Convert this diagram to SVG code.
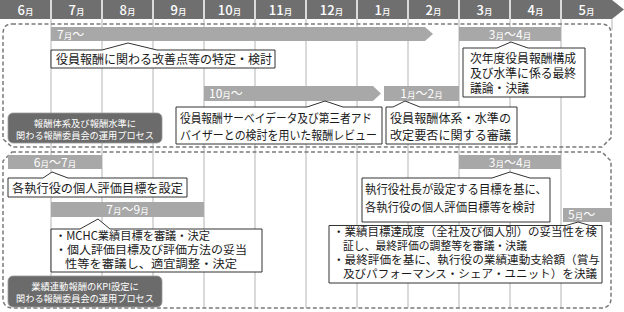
<svg xmlns="http://www.w3.org/2000/svg" width="624" height="312" viewBox="0 0 624 312">
<style>
text{font-family:"Noto Sans CJK JP","Noto Sans",sans-serif;}
.hd{fill:#6f6f6f;}
.hsep{stroke:#fff;stroke-width:1.5;}
.ht{fill:#fff;font-size:13px;text-anchor:middle;font-weight:500;}
.m{font-size:8.5px;}
.grid{stroke:#b4b4b4;stroke-width:1;}
.frame{fill:none;stroke:#7a7a7a;stroke-width:1.5;stroke-dasharray:4 2.5;}
.bar{fill:#a8a8a8;}
.bt{fill:#fff;font-size:12px;}
.co{fill:#fff;stroke:#333;stroke-width:1;}
.ct{fill:#1a1a1a;font-size:12px;}
.cs{fill:#1a1a1a;font-size:11.3px;}
.lab{fill:#6b6b6b;stroke:#9a9a9a;stroke-width:0.8;}
.lt{fill:#fff;font-size:9.3px;text-anchor:middle;}
</style>
<rect width="624" height="312" fill="#fff"/>
<g id="header">
<path class="hd" d="M0,0 H612 L624,9.5 L612,19 H0 Z"/>
<g class="hsep">
<line x1="51" y1="0" x2="51" y2="19"/><line x1="102" y1="0" x2="102" y2="19"/><line x1="153" y1="0" x2="153" y2="19"/><line x1="204" y1="0" x2="204" y2="19"/><line x1="255" y1="0" x2="255" y2="19"/><line x1="306" y1="0" x2="306" y2="19"/><line x1="357" y1="0" x2="357" y2="19"/><line x1="408" y1="0" x2="408" y2="19"/><line x1="459" y1="0" x2="459" y2="19"/><line x1="510" y1="0" x2="510" y2="19"/><line x1="561" y1="0" x2="561" y2="19"/>
</g>
<text class="ht" x="25.5" y="14.5">6<tspan class="m">月</tspan></text>
<text class="ht" x="76.5" y="14.5">7<tspan class="m">月</tspan></text>
<text class="ht" x="127.5" y="14.5">8<tspan class="m">月</tspan></text>
<text class="ht" x="178.5" y="14.5">9<tspan class="m">月</tspan></text>
<text class="ht" x="229.5" y="14.5">10<tspan class="m">月</tspan></text>
<text class="ht" x="280.5" y="14.5">11<tspan class="m">月</tspan></text>
<text class="ht" x="331.5" y="14.5">12<tspan class="m">月</tspan></text>
<text class="ht" x="382.5" y="14.5">1<tspan class="m">月</tspan></text>
<text class="ht" x="433.5" y="14.5">2<tspan class="m">月</tspan></text>
<text class="ht" x="484.5" y="14.5">3<tspan class="m">月</tspan></text>
<text class="ht" x="535.5" y="14.5">4<tspan class="m">月</tspan></text>
<text class="ht" x="586.5" y="14.5">5<tspan class="m">月</tspan></text>
</g>
<g id="grid" class="grid">
<line x1="51" y1="19" x2="51" y2="308"/><line x1="102" y1="19" x2="102" y2="308"/><line x1="153" y1="19" x2="153" y2="308"/><line x1="204" y1="19" x2="204" y2="308"/><line x1="255" y1="19" x2="255" y2="308"/><line x1="306" y1="19" x2="306" y2="308"/><line x1="357" y1="19" x2="357" y2="308"/><line x1="408" y1="19" x2="408" y2="308"/><line x1="459" y1="19" x2="459" y2="308"/><line x1="510" y1="19" x2="510" y2="308"/><line x1="561" y1="19" x2="561" y2="308"/><line x1="612" y1="19" x2="612" y2="30"/>
</g>
<g id="frames">
<path class="frame" d="M12,24 H601 Q611,24 611,34 V138 L602,147 H12 L3,139 V34 Q3,24 12,24"/>
<path class="frame" d="M12,152 H602 L611,161 V298 Q611,308 601,308 H13 Q3,308 3,298 V161 Z"/>
</g>
<g id="bar-jul">
<path class="bar" d="M51,27 H425 L433,34 L425,41 H51 Z"/>
<text class="bt" x="57" y="38.5">7<tspan class="m">月</tspan>～</text>
</g>
<g id="bar-marapr1">
<rect class="bar" x="459" y="27" width="102" height="14"/>
<text class="bt" x="510" y="38.5" text-anchor="middle">3<tspan class="m">月</tspan>～4<tspan class="m">月</tspan></text>
</g>
<g id="bar-oct">
<path class="bar" d="M204,86 H373 L381,93.5 L373,101 H204 Z"/>
<text class="bt" x="209" y="97.5">10<tspan class="m">月</tspan>～</text>
</g>
<g id="bar-janfeb">
<rect class="bar" x="384" y="86" width="75" height="15"/>
<text class="bt" x="421.5" y="97.5" text-anchor="middle">1<tspan class="m">月</tspan>～2<tspan class="m">月</tspan></text>
</g>
<g id="box-a">
<path class="co" d="M51,50 H102 L128,43 L157,50 H275 V68 H51 Z"/>
<text class="ct" x="56" y="63.5" textLength="216" lengthAdjust="spacingAndGlyphs">役員報酬に関わる改善点等の特定・検討</text>
</g>
<g id="box-b">
<path class="co" d="M463,48 H497 L511,42 L528,48 H585 V97 H463 Z"/>
<text class="ct" x="470" y="63" textLength="106" lengthAdjust="spacingAndGlyphs">次年度役員報酬構成</text>
<text class="ct" x="470" y="78" textLength="106" lengthAdjust="spacingAndGlyphs">及び水準に係る最終</text>
<text class="ct" x="470" y="93" textLength="59" lengthAdjust="spacingAndGlyphs">議論・決議</text>
</g>
<g id="box-c">
<path class="co" d="M176,107 H307 L325,101 L343,107 H382 V144 H176 Z"/>
<text class="ct" x="180" y="123" textLength="192" lengthAdjust="spacingAndGlyphs">役員報酬サーベイデータ及び第三者アド</text>
<text class="ct" x="180" y="140" textLength="197" lengthAdjust="spacingAndGlyphs">バイザーとの検討を用いた報酬レビュー</text>
</g>
<g id="box-d">
<path class="co" d="M386,107 H393 L405,101 L420,107 H517 V144 H386 Z"/>
<text class="ct" x="390" y="123" textLength="121" lengthAdjust="spacingAndGlyphs">役員報酬体系・水準の</text>
<text class="ct" x="390" y="140" textLength="121" lengthAdjust="spacingAndGlyphs">改定要否に関する審議</text>
</g>
<g id="label-1">
<rect class="lab" x="8" y="113" width="154" height="30" rx="5"/>
<text class="lt" x="85" y="126.5">報酬体系及び報酬水準に</text>
<text class="lt" x="85" y="138.5" textLength="138" lengthAdjust="spacingAndGlyphs">関わる報酬委員会の運用プロセス</text>
</g>
<g id="bar-junjul">
<rect class="bar" x="8" y="155" width="94" height="14"/>
<text class="bt" x="55" y="166.5" text-anchor="middle">6<tspan class="m">月</tspan>～7<tspan class="m">月</tspan></text>
</g>
<g id="bar-julsep">
<rect class="bar" x="51" y="202" width="153" height="15"/>
<text class="bt" x="127.5" y="214" text-anchor="middle">7<tspan class="m">月</tspan>～9<tspan class="m">月</tspan></text>
</g>
<g id="bar-marapr2">
<rect class="bar" x="459" y="155" width="102" height="14"/>
<text class="bt" x="510" y="166.5" text-anchor="middle">3<tspan class="m">月</tspan>～4<tspan class="m">月</tspan></text>
</g>
<g id="bar-may">
<rect class="bar" x="563" y="208" width="49" height="14"/>
<text class="bt" x="568" y="219">5<tspan class="m">月</tspan>～</text>
</g>
<g id="box-e">
<path class="co" d="M8,178 H43 L52,172 L68,178 H187 V197 H8 Z"/>
<text class="ct" x="12" y="192.5" textLength="171" lengthAdjust="spacingAndGlyphs">各執行役の個人評価目標を設定</text>
</g>
<g id="box-f">
<path class="co" d="M51,229 H80 L98,219 L110,229 H262 V272 H51 Z"/>
<text class="cs" x="55" y="240" textLength="155" lengthAdjust="spacingAndGlyphs">・MCHC業績目標を審議・決定</text>
<text class="cs" x="55" y="254" textLength="192" lengthAdjust="spacingAndGlyphs">・個人評価目標及び評価方法の妥当</text>
<text class="cs" x="65" y="268" textLength="172" lengthAdjust="spacingAndGlyphs">性等を審議し、適宜調整・決定</text>
</g>
<g id="label-2">
<rect class="lab" x="8" y="276" width="154" height="31" rx="5"/>
<text class="lt" x="85" y="289.5">業績連動報酬のKPI設定に</text>
<text class="lt" x="85" y="302" textLength="138" lengthAdjust="spacingAndGlyphs">関わる報酬委員会の運用プロセス</text>
</g>
<g id="box-g">
<path class="co" d="M362,178 H492 L510,172 L530,178 H550 V222 H362 Z"/>
<text class="ct" x="365" y="194" textLength="182" lengthAdjust="spacingAndGlyphs">執行役社長が設定する目標を基に、</text>
<text class="ct" x="365" y="212" textLength="170" lengthAdjust="spacingAndGlyphs">各執行役の個人評価目標等を検討</text>
</g>
<g id="box-h">
<path class="co" d="M329,225.5 H566 L578,222 L590,225.5 H602 V283 H329 Z"/>
<text class="cs" x="333" y="236" textLength="264" lengthAdjust="spacingAndGlyphs">・業績目標達成度（全社及び個人別）の妥当性を検</text>
<text class="cs" x="343" y="250" textLength="184" lengthAdjust="spacingAndGlyphs">証し、最終評価の調整等を審議・決議</text>
<text class="cs" x="333" y="264" textLength="267" lengthAdjust="spacingAndGlyphs">・最終評価を基に、執行役の業績連動支給額（賞与</text>
<text class="cs" x="343" y="278" textLength="254" lengthAdjust="spacingAndGlyphs">及びパフォーマンス・シェア・ユニット）を決議</text>
</g>
</svg>
